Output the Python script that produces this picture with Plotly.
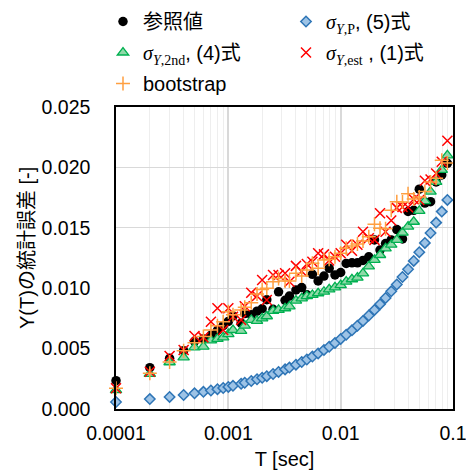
import plotly.graph_objects as go

# T [sec]
T = [0.0001, 0.0002, 0.0003, 0.0004, 0.0005, 0.0006, 0.0007, 0.0008, 0.0009, 0.0010,
     0.0011, 0.0013, 0.0014, 0.0016, 0.0018, 0.0020, 0.0022, 0.0025, 0.0028, 0.0032,
     0.0035, 0.0040, 0.0045, 0.0050, 0.0056, 0.0063, 0.0071, 0.0079, 0.0089, 0.0100,
     0.0112, 0.0126, 0.0141, 0.0158, 0.0178, 0.0200, 0.0224, 0.0251, 0.0282, 0.0316,
     0.0355, 0.0398, 0.0447, 0.0501, 0.0562, 0.0631, 0.0708, 0.0794, 0.0891, 0.1000]

# 参照値
ref = [0.00234, 0.00342, 0.00420, 0.00483, 0.00560, 0.00580, 0.00610, 0.00650, 0.00690, 0.00725,
       0.00770, 0.00710, 0.00790, 0.00780, 0.00810, 0.00830, 0.00905, 0.00825, 0.00970, 0.00900,
       0.00935, 0.00985, 0.01005, 0.00945, 0.01115, 0.01060, 0.01100, 0.01165, 0.01110, 0.01130,
       0.01205, 0.01210, 0.01210, 0.01230, 0.01260, 0.01400, 0.01316, 0.01370, 0.01400, 0.01485,
       0.01408, 0.01635, 0.01645, 0.01820, 0.01705, 0.01716, 0.01880, 0.01937, 0.02034, 0.02285]

# sigma_Y,P (5)式
sig_p = [0.00058, 0.00082, 0.00100, 0.00116, 0.00130, 0.00142, 0.00153, 0.00164, 0.00174, 0.00183,
         0.00192, 0.00209, 0.00217, 0.00232, 0.00246, 0.00259, 0.00272, 0.00290, 0.00307, 0.00328,
         0.00343, 0.00367, 0.00389, 0.00410, 0.00434, 0.00460, 0.00489, 0.00515, 0.00547, 0.00580,
         0.00614, 0.00651, 0.00689, 0.00729, 0.00774, 0.00820, 0.00868, 0.00919, 0.00974, 0.01031,
         0.01093, 0.01157, 0.01226, 0.01298, 0.01375, 0.01457, 0.01543, 0.01634, 0.01731, 0.01834]

# sigma_Y,2nd (4)式
sig_2nd = [0.00157, 0.00290, 0.00387, 0.00428, 0.00510, 0.00516, 0.00568, 0.00580, 0.00593, 0.00620,
           0.00654, 0.00646, 0.00690, 0.00737, 0.00730, 0.00750, 0.00768, 0.00812, 0.00820, 0.00834,
           0.00850, 0.00897, 0.00916, 0.00935, 0.00944, 0.00958, 0.00971, 0.00991, 0.01007, 0.01026,
           0.01054, 0.01074, 0.01087, 0.01123, 0.01180, 0.01235, 0.01275, 0.01330, 0.01360, 0.01400,
           0.01460, 0.01510, 0.01550, 0.01640, 0.01720, 0.01800, 0.01880, 0.01980, 0.02100, 0.02190]

# sigma_Y,est (1)式
sig_est = [0.00171, 0.00309, 0.00439, 0.00488, 0.00604, 0.00593, 0.00723, 0.00834, 0.00654, 0.00834,
           0.00764, 0.00737, 0.00850, 0.00963, 0.00935, 0.01068, 0.00902, 0.01110, 0.01110, 0.01123,
           0.01054, 0.01185, 0.01140, 0.01200, 0.01219, 0.01289, 0.01280, 0.01230, 0.01260, 0.01289,
           0.01360, 0.01310, 0.01360, 0.01468, 0.01413, 0.01400, 0.01620, 0.01468, 0.01560, 0.01665,
           0.01672, 0.01670, 0.01736, 0.01730, 0.01890, 0.01900, 0.01950, 0.02046, 0.02220, 0.02128]

# bootstrap
boot = [0.00171, 0.00295, 0.00390, 0.00483, 0.00549, 0.00600, 0.00654, 0.00690, 0.00723, 0.00805,
        0.00780, 0.00820, 0.00842, 0.00880, 0.00952, 0.00990, 0.01000, 0.01054, 0.01080, 0.01060,
        0.01060, 0.01123, 0.01100, 0.01150, 0.01206, 0.01165, 0.01233, 0.01240, 0.01260, 0.01289,
        0.01330, 0.01350, 0.01365, 0.01391, 0.01426, 0.01530, 0.01496, 0.01492, 0.01645, 0.01715,
        0.01714, 0.01782, 0.01738, 0.01755, 0.01800, 0.01879, 0.01910, 0.02060, 0.02037, 0.02347]

x_tickvals = [0.0001, 0.001, 0.01, 0.1]
x_ticktext = ["0.0001", "0.001", "0.01", "0.1"]

x_title = "T [sec]"
y_title = "Y(T)の統計誤差 [-]"

SERIF = "font-family:'Liberation Serif','DejaVu Serif',serif"
names = [
    "参照値",
    f'<span style="{SERIF}"><i>σ</i><sub><i>Y</i>,P</sub></span>, (5)式',
    f'<span style="{SERIF}"><i>σ</i><sub><i>Y</i>,2nd</sub></span>, (4)式',
    f'<span style="{SERIF}"><i>σ</i><sub><i>Y</i>,est</sub></span> , (1)式',
    "bootstrap",
]

FONT = "Liberation Sans, Arial, Noto Sans CJK JP, sans-serif"

fig = go.Figure()
fig.add_trace(go.Scatter(x=T, y=ref, mode="markers", name=names[0], legend="legend", legendgroup="g1",
                         cliponaxis=False, marker=dict(symbol="circle", size=9.5, color="black")))
fig.add_trace(go.Scatter(x=T, y=sig_p, mode="markers", name=names[1], legend="legend2", legendgroup="g2",
                         cliponaxis=False,
                         marker=dict(symbol="diamond", size=8, color="#9DC3E6",
                                     line=dict(color="#2E75B6", width=1.5))))
fig.add_trace(go.Scatter(x=T, y=sig_2nd, mode="markers", name=names[2], legend="legend", legendgroup="g3",
                         cliponaxis=False,
                         marker=dict(symbol="triangle-up", size=10, color="#8FD9A8",
                                     line=dict(color="#00B050", width=1.3))))
fig.add_trace(go.Scatter(x=T, y=sig_est, mode="markers", name=names[3], legend="legend2", legendgroup="g4",
                         cliponaxis=False,
                         marker=dict(symbol="x-thin", size=10, color="#FF0000",
                                     line=dict(color="#FF0000", width=1.5))))
fig.add_trace(go.Scatter(x=T, y=boot, mode="markers", name=names[4], legend="legend", legendgroup="g5",
                         cliponaxis=False,
                         marker=dict(symbol="cross-thin", size=10, color="#FF9F40",
                                     line=dict(color="#FF9F40", width=1.5))))

legend_common = dict(xref="container", yref="container", xanchor="left", yanchor="top",
                     orientation="v", bgcolor="rgba(0,0,0,0)", borderwidth=0,
                     font=dict(family=FONT, size=20, color="black"), tracegroupgap=2,
                     itemclick=False)

fig.update_layout(
    width=466, height=470,
    margin=dict(l=116, r=13, t=107, b=61, autoexpand=False),
    paper_bgcolor="white", plot_bgcolor="white",
    font=dict(family=FONT, size=19.5, color="black"),
    showlegend=True,
    legend=dict(x=103 / 466, y=1 - 2 / 470, **legend_common),
    legend2=dict(x=286 / 466, y=1 - 2 / 470, **legend_common),
    xaxis=dict(type="log", range=[-4, -1], tickvals=x_tickvals, ticktext=x_ticktext,
               showgrid=True, gridcolor="#d9d9d9", gridwidth=2,
               minor=dict(dtick="D1", showgrid=True, gridcolor="#eeeeee", gridwidth=1, ticks=""),
               showline=True, linecolor="black", linewidth=1.5, mirror=True,
               zeroline=False, ticks="outside", ticklen=6, tickcolor="rgba(0,0,0,0)",
               ticklabeloverflow="allow",
               title=dict(text=x_title, font=dict(size=20)),
               automargin=False),
    yaxis=dict(range=[0, 0.025], dtick=0.005, tickformat=".3f",
               showgrid=True, gridcolor="#d9d9d9", gridwidth=1,
               showline=True, linecolor="black", linewidth=1.5, mirror=True,
               zeroline=False, ticks="outside", ticklen=20, tickcolor="rgba(0,0,0,0)",
               automargin=False),
    annotations=[dict(text=y_title, textangle=-90, xref="paper", yref="paper",
                      x=(27 - 116) / 337, y=(409 - 248) / 302, xanchor="center", yanchor="middle",
                      showarrow=False, font=dict(family=FONT, size=20, color="black"))],
)

fig.write_html("out.html", config={"displayModeBar": False})

# remove default page margin so the figure sits at the window's top-left corner
with open("out.html", "r", encoding="utf-8") as f:
    html = f.read()
html = html.replace("<head>", "<head><style>html,body{margin:0;padding:0;overflow:hidden;}</style>", 1)
with open("out.html", "w", encoding="utf-8") as f:
    f.write(html)
